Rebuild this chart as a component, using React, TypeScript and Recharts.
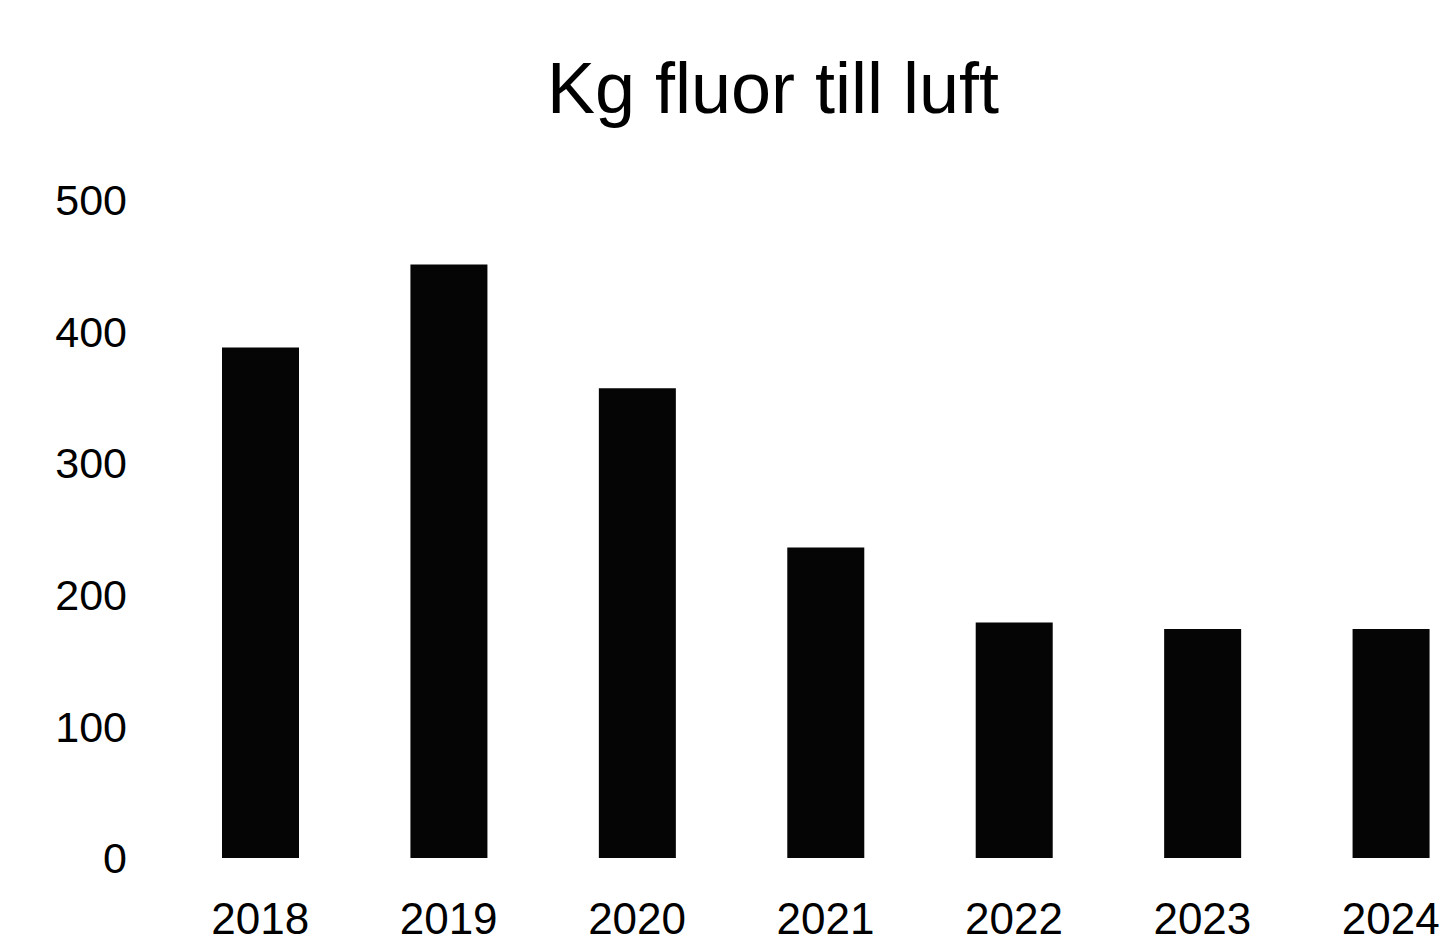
import { Bar, BarChart, XAxis, YAxis } from "recharts";

const years = ["2018", "2019", "2020", "2021", "2022", "2023", "2024"];
const kgFluor = [388, 451, 357, 236, 179, 174, 174];
const yTicks = [0, 100, 200, 300, 400, 500];

const data = years.map((year, i) => ({ year, kg: kgFluor[i] }));

const font = "'Liberation Sans', Arial, sans-serif";

export default function App() {
  return (
    <div
      style={{
        position: "absolute",
        left: 0,
        top: 0,
        width: 1444,
        height: 936,
        overflow: "hidden",
        background: "#fff",
        fontFamily: font,
      }}
    >
      <div
        style={{
          position: "absolute",
          left: 0,
          width: 1546,
          top: 46,
          textAlign: "center",
          fontSize: 72,
          lineHeight: "84px",
          color: "#000",
        }}
      >
        Kg fluor till luft
      </div>
      <div style={{ position: "absolute", left: 0, top: 0 }}>
        <BarChart
          width={1500}
          height={1000}
          data={data}
          margin={{ top: 200, right: 15, bottom: 82, left: 0 }}
        >
          <XAxis
            dataKey="year"
            axisLine={false}
            tickLine={false}
            tickMargin={39}
            height={60}
            interval={0}
            tick={{ fill: "#000", fontSize: 44, fontFamily: font }}
          />
          <YAxis
            domain={[0, 500]}
            ticks={yTicks}
            axisLine={false}
            tickLine={false}
            tickMargin={33}
            width={166}
            tick={{ fill: "#000", fontSize: 43, fontFamily: font }}
          />
          <Bar dataKey="kg" fill="#050505" barSize={77} isAnimationActive={false} />
        </BarChart>
      </div>
    </div>
  );
}
